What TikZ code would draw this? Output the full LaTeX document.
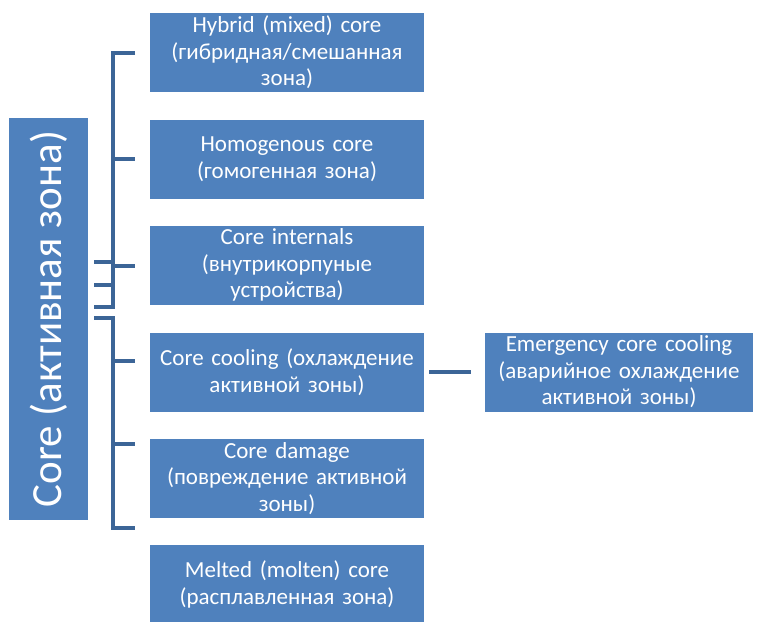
\documentclass[tikz,border=0pt]{standalone}
\usepackage{fontspec}
\setmainfont{Carlito}
\usetikzlibrary{calc}
\definecolor{boxblue}{HTML}{4F81BD}
\definecolor{linkblue}{HTML}{3C6597}
\begin{document}
\begin{tikzpicture}[x=1pt,y=-1pt,
  item/.style={fill=boxblue, text=white, minimum width=274pt, minimum height=79pt,
    text width=266pt, align=center, inner sep=0pt,
    font=\fontsize{23}{26.5}\selectfont},
  link/.style={draw=linkblue, line width=4pt}]
\useasboundingbox (0,0) rectangle (757,621);
\node[fill=boxblue, text=white, minimum width=402pt, minimum height=79pt, inner sep=0pt,
  rotate=90, font=\fontsize{43}{50}\selectfont] (root) at (48.5,319) {Core (активная зона)};
\node[item] (a) at (287,52.5) {Hybrid (mixed) core\\(гибридная/смешанная\\зона)};
\node[item] (b) at (287,159) {Homogenous core\\(гомогенная зона)};
\node[item] (c) at (287,265) {Core internals\\(внутрикорпуные\\устройства)};
\node[item] (d) at (287,372) {Core cooling (охлаждение\\активной зоны)};
\node[item] (e) at (287,478.5) {Core damage\\(повреждение активной\\зоны)};
\node[item] (f) at (287,584.5) {Melted (molten) core\\(расплавленная зона)};
\node[item, minimum width=268pt, text width=264pt] (g) at (619,372) {Emergency core cooling\\(аварийное охлаждение\\активной зоны)};
% upper bracket
\coordinate (u1) at (135,53);
\coordinate (u2) at (113,53);
\coordinate (u3) at (113,307);
\coordinate (u4) at (94,307);
\draw[link] (u1) -- (u2) -- (u3) -- (u4);
\draw[link] (113,159) -- (135,159);
\draw[link] (113,266) -- (135,266);
\draw[link] (94,262) -- (113,262);
\draw[link] (94,285) -- (113,285);
% lower bracket
\draw[link] (94,318) -- (113,318) -- (113,528) -- (135,528);
\draw[link] (113,361) -- (135,361);
\draw[link] (113,444) -- (135,444);
% side link
\draw[link] ($(d.east)+(5,0)$) -- ($(g.west)+(-14,0)$);
\end{tikzpicture}
\end{document}
